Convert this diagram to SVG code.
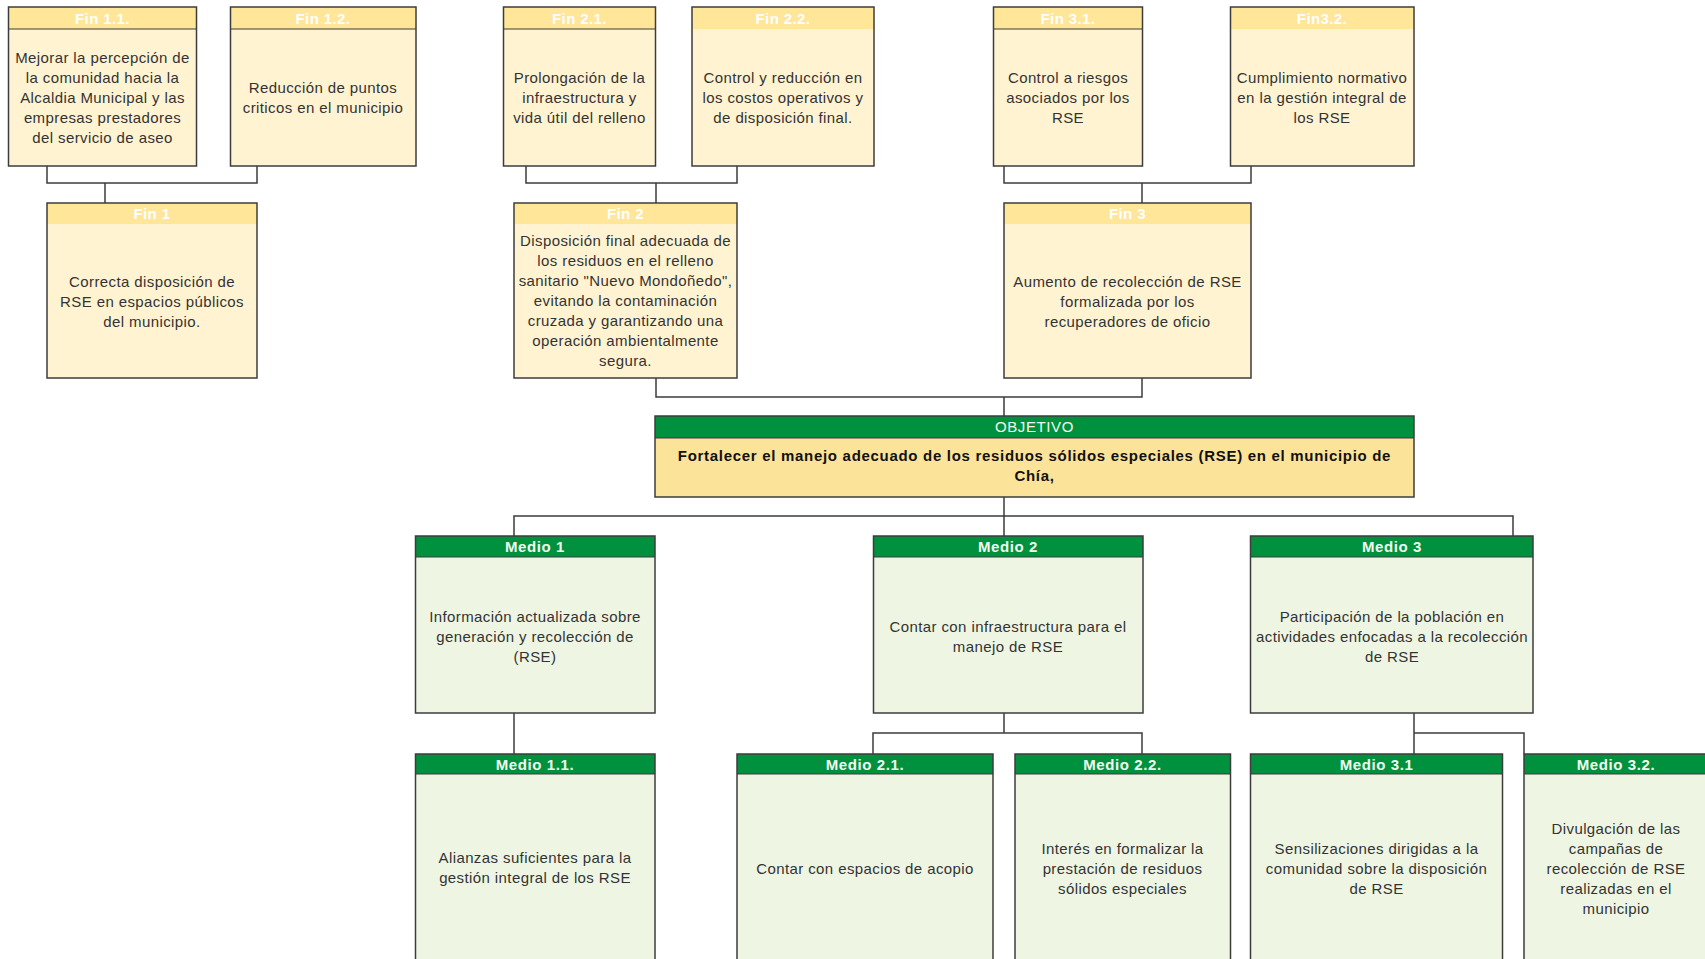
<svg xmlns="http://www.w3.org/2000/svg" width="1705" height="959" viewBox="0 0 1705 959">
<style>
.bg{fill:#ffffff}
.fb{fill:#FFF3D2}
.fh{fill:#FFE699}
.ob{fill:#FCE39A}
.gh{fill:#00913E}
.mb{fill:#EEF6E3}
.ol{fill:none;stroke:#3c3c3c;stroke-width:1.5}
.dv{stroke:#3c3c3c;stroke-width:1.2}
.con{fill:none;stroke:#3c3c3c;stroke-width:1.5}
text{font-family:"Liberation Sans",Arial,sans-serif;text-anchor:middle}
.t{font-size:15px;letter-spacing:0.4px;fill:#333333}
.hw{font-size:15px;font-weight:bold;letter-spacing:0.4px;fill:#ffffff}
.hg{font-size:15px;font-weight:bold;letter-spacing:0.6px;fill:#F4FBEF}
.tb{font-size:15px;font-weight:bold;letter-spacing:0.7px;fill:#111111}
</style>
<rect class="bg" x="0" y="0" width="1705" height="959"/>

<g id="connectors">
<path class="con" d="M47,166 V183 H257 V166 M105,183 V203"/>
<path class="con" d="M526,166 V183 H737 V166 M656,183 V203"/>
<path class="con" d="M1004,166 V183 H1251 V166 M1142,183 V203"/>
<path class="con" d="M656,378 V397 H1142 V378 M1004,397 V416"/>
<path class="con" d="M1004,497 V536 M514,536 V516 H1513 V536"/>
<path class="con" d="M514,713 V754"/>
<path class="con" d="M1004,713 V733 M873,754 V733 H1142 V754"/>
<path class="con" d="M1414,713 V754 M1414,733 H1524 V754"/>
</g>

<g id="fin11">
<rect class="fb" x="8.5" y="7" width="188" height="159"/>
<rect class="fh" x="8.5" y="7" width="188" height="22"/>
<line class="dv" x1="8.5" y1="29" x2="197" y2="29"/>
<rect class="ol" x="8.5" y="7" width="188" height="159"/>
<text class="hw" x="102.5" y="23.5">Fin 1.1.</text>
<text class="t" x="102.5" y="63">Mejorar la percepción de</text>
<text class="t" x="102.5" y="83">la comunidad hacia la</text>
<text class="t" x="102.5" y="103">Alcaldia Municipal y las</text>
<text class="t" x="102.5" y="123">empresas prestadores</text>
<text class="t" x="102.5" y="143">del servicio de aseo</text>
</g>

<g id="fin12">
<rect class="fb" x="230.5" y="7" width="185.5" height="159"/>
<rect class="fh" x="230.5" y="7" width="185.5" height="22"/>
<line class="dv" x1="230.5" y1="29" x2="416" y2="29"/>
<rect class="ol" x="230.5" y="7" width="185.5" height="159"/>
<text class="hw" x="323" y="23.5">Fin 1.2.</text>
<text class="t" x="323" y="93">Reducción de puntos</text>
<text class="t" x="323" y="113">criticos en el municipio</text>
</g>

<g id="fin21">
<rect class="fb" x="503.5" y="7" width="152" height="159"/>
<rect class="fh" x="503.5" y="7" width="152" height="22"/>
<line class="dv" x1="503.5" y1="29" x2="655.5" y2="29"/>
<rect class="ol" x="503.5" y="7" width="152" height="159"/>
<text class="hw" x="579.5" y="23.5">Fin 2.1.</text>
<text class="t" x="579.5" y="83">Prolongación de la</text>
<text class="t" x="579.5" y="103">infraestructura y</text>
<text class="t" x="579.5" y="123">vida útil del relleno</text>
</g>

<g id="fin22">
<rect class="fb" x="692" y="7" width="182" height="159"/>
<rect class="fh" x="692" y="7" width="182" height="22"/>
<rect class="ol" x="692" y="7" width="182" height="159"/>
<text class="hw" x="783" y="23.5">Fin 2.2.</text>
<text class="t" x="783" y="83">Control y reducción en</text>
<text class="t" x="783" y="103">los costos operativos y</text>
<text class="t" x="783" y="123">de disposición final.</text>
</g>

<g id="fin31">
<rect class="fb" x="993.5" y="7" width="149" height="159"/>
<rect class="fh" x="993.5" y="7" width="149" height="22"/>
<line class="dv" x1="993.5" y1="29" x2="1142.5" y2="29"/>
<rect class="ol" x="993.5" y="7" width="149" height="159"/>
<text class="hw" x="1068" y="23.5">Fin 3.1.</text>
<text class="t" x="1068" y="83">Control a riesgos</text>
<text class="t" x="1068" y="103">asociados por los</text>
<text class="t" x="1068" y="123">RSE</text>
</g>

<g id="fin32">
<rect class="fb" x="1230.5" y="7" width="183.5" height="159"/>
<rect class="fh" x="1230.5" y="7" width="183.5" height="22"/>
<rect class="ol" x="1230.5" y="7" width="183.5" height="159"/>
<text class="hw" x="1322" y="23.5">Fin3.2.</text>
<text class="t" x="1322" y="83">Cumplimiento normativo</text>
<text class="t" x="1322" y="103">en la gestión integral de</text>
<text class="t" x="1322" y="123">los RSE</text>
</g>

<g id="fin1">
<rect class="fb" x="47" y="203" width="210" height="175"/>
<rect class="fh" x="47" y="203" width="210" height="21"/>
<rect class="ol" x="47" y="203" width="210" height="175"/>
<text class="hw" x="152" y="219">Fin 1</text>
<text class="t" x="152" y="287">Correcta disposición de</text>
<text class="t" x="152" y="307">RSE en espacios públicos</text>
<text class="t" x="152" y="327">del municipio.</text>
</g>

<g id="fin2">
<rect class="fb" x="514" y="203" width="223" height="175"/>
<rect class="fh" x="514" y="203" width="223" height="21"/>
<rect class="ol" x="514" y="203" width="223" height="175"/>
<text class="hw" x="625.5" y="219">Fin 2</text>
<text class="t" x="625.5" y="246">Disposición final adecuada de</text>
<text class="t" x="625.5" y="266">los residuos en el relleno</text>
<text class="t" x="625.5" y="286">sanitario "Nuevo Mondoñedo",</text>
<text class="t" x="625.5" y="306">evitando la contaminación</text>
<text class="t" x="625.5" y="326">cruzada y garantizando una</text>
<text class="t" x="625.5" y="346">operación ambientalmente</text>
<text class="t" x="625.5" y="366">segura.</text>
</g>

<g id="fin3">
<rect class="fb" x="1004" y="203" width="247" height="175"/>
<rect class="fh" x="1004" y="203" width="247" height="21"/>
<rect class="ol" x="1004" y="203" width="247" height="175"/>
<text class="hw" x="1127.5" y="219">Fin 3</text>
<text class="t" x="1127.5" y="287">Aumento de recolección de RSE</text>
<text class="t" x="1127.5" y="307">formalizada por los</text>
<text class="t" x="1127.5" y="327">recuperadores de oficio</text>
</g>

<g id="objetivo">
<rect class="ob" x="655" y="416" width="759" height="81"/>
<rect class="gh" x="655" y="416" width="759" height="22"/>
<line class="dv" x1="655" y1="438" x2="1414" y2="438"/>
<rect class="ol" x="655" y="416" width="759" height="81"/>
<text class="hg" x="1034.5" y="432" style="font-weight:normal">OBJETIVO</text>
<text class="tb" x="1034.5" y="461">Fortalecer el manejo adecuado de los residuos sólidos especiales (RSE) en el municipio de</text>
<text class="tb" x="1034.5" y="481">Chía,</text>
</g>

<g id="medio1">
<rect class="mb" x="415.5" y="536" width="239.5" height="177"/>
<rect class="gh" x="415.5" y="536" width="239.5" height="21"/>
<line class="dv" x1="415.5" y1="557" x2="655" y2="557"/>
<rect class="ol" x="415.5" y="536" width="239.5" height="177"/>
<text class="hg" x="535" y="552">Medio 1</text>
<text class="t" x="535" y="622">Información actualizada sobre</text>
<text class="t" x="535" y="642">generación y recolección de</text>
<text class="t" x="535" y="662">(RSE)</text>
</g>

<g id="medio2">
<rect class="mb" x="873.5" y="536" width="269.5" height="177"/>
<rect class="gh" x="873.5" y="536" width="269.5" height="21"/>
<line class="dv" x1="873.5" y1="557" x2="1143" y2="557"/>
<rect class="ol" x="873.5" y="536" width="269.5" height="177"/>
<text class="hg" x="1008" y="552">Medio 2</text>
<text class="t" x="1008" y="631.5">Contar con infraestructura para el</text>
<text class="t" x="1008" y="651.5">manejo de RSE</text>
</g>

<g id="medio3">
<rect class="mb" x="1250.5" y="536" width="282.5" height="177"/>
<rect class="gh" x="1250.5" y="536" width="282.5" height="21"/>
<line class="dv" x1="1250.5" y1="557" x2="1533" y2="557"/>
<rect class="ol" x="1250.5" y="536" width="282.5" height="177"/>
<text class="hg" x="1392" y="552">Medio 3</text>
<text class="t" x="1392" y="622">Participación de la población en</text>
<text class="t" x="1392" y="642">actividades enfocadas a la recolección</text>
<text class="t" x="1392" y="662">de RSE</text>
</g>

<g id="medio11">
<rect class="mb" x="415.5" y="754" width="239.5" height="215"/>
<rect class="gh" x="415.5" y="754" width="239.5" height="20"/>
<line class="dv" x1="415.5" y1="774" x2="655" y2="774"/>
<rect class="ol" x="415.5" y="754" width="239.5" height="215"/>
<text class="hg" x="535" y="769.5">Medio 1.1.</text>
<text class="t" x="535" y="863">Alianzas suficientes para la</text>
<text class="t" x="535" y="883">gestión integral de los RSE</text>
</g>

<g id="medio21">
<rect class="mb" x="737" y="754" width="256" height="215"/>
<rect class="gh" x="737" y="754" width="256" height="20"/>
<line class="dv" x1="737" y1="774" x2="993" y2="774"/>
<rect class="ol" x="737" y="754" width="256" height="215"/>
<text class="hg" x="865" y="769.5">Medio 2.1.</text>
<text class="t" x="865" y="874">Contar con espacios de acopio</text>
</g>

<g id="medio22">
<rect class="mb" x="1015" y="754" width="215.5" height="215"/>
<rect class="gh" x="1015" y="754" width="215.5" height="20"/>
<line class="dv" x1="1015" y1="774" x2="1230.5" y2="774"/>
<rect class="ol" x="1015" y="754" width="215.5" height="215"/>
<text class="hg" x="1122.5" y="769.5">Medio 2.2.</text>
<text class="t" x="1122.5" y="854">Interés en formalizar la</text>
<text class="t" x="1122.5" y="874">prestación de residuos</text>
<text class="t" x="1122.5" y="894">sólidos especiales</text>
</g>

<g id="medio31">
<rect class="mb" x="1250.5" y="754" width="252" height="215"/>
<rect class="gh" x="1250.5" y="754" width="252" height="20"/>
<line class="dv" x1="1250.5" y1="774" x2="1502.5" y2="774"/>
<rect class="ol" x="1250.5" y="754" width="252" height="215"/>
<text class="hg" x="1376.5" y="769.5">Medio 3.1</text>
<text class="t" x="1376.5" y="854">Sensilizaciones dirigidas a la</text>
<text class="t" x="1376.5" y="874">comunidad sobre la disposición</text>
<text class="t" x="1376.5" y="894">de RSE</text>
</g>

<g id="medio32">
<rect class="mb" x="1524" y="754" width="186" height="215"/>
<rect class="gh" x="1524" y="754" width="186" height="20"/>
<line class="dv" x1="1524" y1="774" x2="1710" y2="774"/>
<rect class="ol" x="1524" y="754" width="186" height="215"/>
<text class="hg" x="1616" y="769.5">Medio 3.2.</text>
<text class="t" x="1616" y="834">Divulgación de las</text>
<text class="t" x="1616" y="854">campañas de</text>
<text class="t" x="1616" y="874">recolección de RSE</text>
<text class="t" x="1616" y="894">realizadas en el</text>
<text class="t" x="1616" y="914">municipio</text>
</g>
</svg>
